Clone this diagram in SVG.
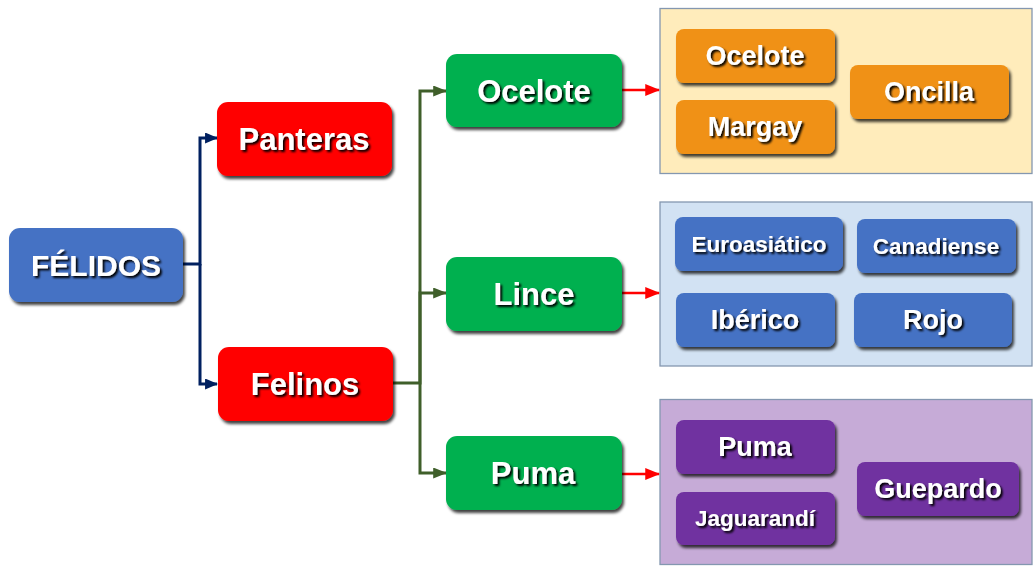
<svg xmlns="http://www.w3.org/2000/svg" width="1036" height="570" viewBox="0 0 1036 570">
<defs>
<filter id="bs" x="-10%" y="-20%" width="125%" height="150%">
<feGaussianBlur in="SourceAlpha" stdDeviation="1.6"/>
<feOffset dx="2" dy="3" result="b"/>
<feComponentTransfer><feFuncA type="linear" slope="0.75"/></feComponentTransfer>
<feMerge><feMergeNode/><feMergeNode in="SourceGraphic"/></feMerge>
</filter>
<filter id="ts" x="-10%" y="-20%" width="125%" height="150%">
<feGaussianBlur in="SourceAlpha" stdDeviation="1.2"/>
<feOffset dx="1.5" dy="2.2" result="b"/>
<feComponentTransfer><feFuncA type="linear" slope="1"/></feComponentTransfer>
<feMerge><feMergeNode/><feMergeNode in="SourceGraphic"/></feMerge>
</filter>
<marker id="aNavy" viewBox="0 0 12 10" refX="11" refY="5" markerWidth="13" markerHeight="11" markerUnits="userSpaceOnUse" orient="auto" preserveAspectRatio="none"><path d="M0,0 L12,5 L0,10 z" fill="#002060"/></marker>
<marker id="aGreen" viewBox="0 0 12 10" refX="11" refY="5" markerWidth="14" markerHeight="11" markerUnits="userSpaceOnUse" orient="auto" preserveAspectRatio="none"><path d="M0,0 L12,5 L0,10 z" fill="#3F5F2A"/></marker>
<marker id="aRed" viewBox="0 0 12 10" refX="11" refY="5" markerWidth="15" markerHeight="12" markerUnits="userSpaceOnUse" orient="auto" preserveAspectRatio="none"><path d="M0,0 L12,5 L0,10 z" fill="#FF0000"/></marker>
</defs>
<style>
text{font-family:"Liberation Sans",Arial,sans-serif;font-weight:bold;fill:#FFFFFF;text-anchor:middle;dominant-baseline:central;filter:url(#ts)}
.box{filter:url(#bs)}
.blue{fill:#4472C4}
.red{fill:#FF0000}
.green{fill:#00B050}
.orange{fill:#F09114}
.purple{fill:#7030A0}
.panel{stroke:#8497B0;stroke-width:1.3}
.big{font-size:31px}
.med{font-size:27px}
.sm{font-size:22.5px}
.cn{fill:none;stroke:#002060;stroke-width:3}
.cg{fill:none;stroke:#3F5F2A;stroke-width:3}
.cr{fill:none;stroke:#FF0000;stroke-width:2.5}
</style>
<rect width="1036" height="570" fill="#FFFFFF"/>
<g id="panels">
<rect class="panel" x="660" y="8.5" width="372" height="165" fill="#FFECBB"/>
<rect class="panel" x="660" y="202" width="372" height="164" fill="#D2E2F3"/>
<rect class="panel" x="660" y="399.5" width="372" height="165" fill="#C6ABD7"/>
</g>
<g id="connectors">
<polyline class="cn" points="183,264 200,264 200,138 217,138" marker-end="url(#aNavy)"/>
<polyline class="cn" points="200,264 200,384 217,384" marker-end="url(#aNavy)"/>
<polyline class="cg" points="393,383 420,383 420,91 446,91" marker-end="url(#aGreen)"/>
<polyline class="cg" points="420,383 420,293 446,293" marker-end="url(#aGreen)"/>
<polyline class="cg" points="420,383 420,473 446,473" marker-end="url(#aGreen)"/>
<line class="cr" x1="622" y1="90" x2="659" y2="90" marker-end="url(#aRed)"/>
<line class="cr" x1="622" y1="293" x2="659" y2="293" marker-end="url(#aRed)"/>
<line class="cr" x1="622" y1="474" x2="659" y2="474" marker-end="url(#aRed)"/>
</g>
<g id="felidos"><rect class="box blue" x="9" y="228" width="174" height="74" rx="11"/><text class="big" x="96" y="265" style="font-size:30px">FÉLIDOS</text></g>
<g id="panteras"><rect class="box red" x="217" y="102" width="175" height="74" rx="11"/><text class="big" x="304" y="139">Panteras</text></g>
<g id="felinos"><rect class="box red" x="218" y="347" width="175" height="74" rx="11"/><text class="big" x="305" y="384">Felinos</text></g>
<g id="ocelote"><rect class="box green" x="446" y="54" width="176" height="73" rx="11"/><text class="big" x="534" y="91">Ocelote</text></g>
<g id="lince"><rect class="box green" x="446" y="257" width="176" height="74" rx="11"/><text class="big" x="534" y="294">Lince</text></g>
<g id="puma"><rect class="box green" x="446" y="436" width="176" height="74" rx="11"/><text class="big" x="533" y="473">Puma</text></g>
<g id="ocelote2"><rect class="box orange" x="676" y="29" width="159" height="54" rx="8"/><text class="med" x="755" y="56">Ocelote</text></g>
<g id="margay"><rect class="box orange" x="676" y="100" width="159" height="54" rx="8"/><text class="med" x="755" y="127">Margay</text></g>
<g id="oncilla"><rect class="box orange" x="850" y="65" width="159" height="54" rx="8"/><text class="med" x="929" y="92">Oncilla</text></g>
<g id="euroasiatico"><rect class="box blue" x="675" y="217" width="168" height="54" rx="8"/><text class="sm" x="759" y="244">Euroasiático</text></g>
<g id="canadiense"><rect class="box blue" x="857" y="219" width="159" height="54" rx="8"/><text class="sm" x="936" y="246">Canadiense</text></g>
<g id="iberico"><rect class="box blue" x="676" y="293" width="159" height="54" rx="8"/><text class="med" x="755" y="320">Ibérico</text></g>
<g id="rojo"><rect class="box blue" x="854" y="293" width="158" height="54" rx="8"/><text class="med" x="933" y="320">Rojo</text></g>
<g id="puma2"><rect class="box purple" x="676" y="420" width="159" height="54" rx="8"/><text class="med" x="755" y="447">Puma</text></g>
<g id="jaguarundi"><rect class="box purple" x="676" y="492" width="159" height="53" rx="8"/><text class="sm" x="755" y="518">Jaguarandí</text></g>
<g id="guepardo"><rect class="box purple" x="857" y="462" width="162" height="54" rx="8"/><text class="med" x="938" y="489">Guepardo</text></g>
</svg>
